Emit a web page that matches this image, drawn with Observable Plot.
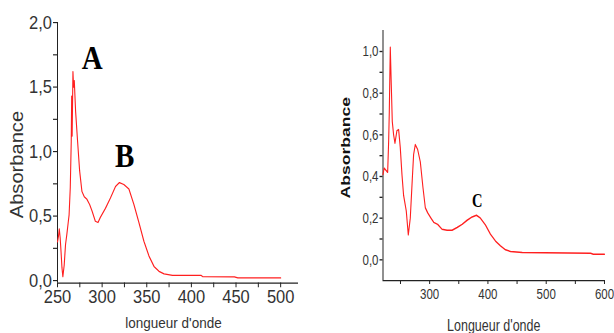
<!DOCTYPE html>
<html>
<head>
<meta charset="utf-8">
<script src="https://cdn.jsdelivr.net/npm/d3@7"></script>
<script src="https://cdn.jsdelivr.net/npm/@observablehq/plot@0.6"></script>
<style>
  html, body { margin: 0; padding: 0; background: #fff; }
  #wrap { position: relative; width: 614px; height: 333px; overflow: hidden; background: #fff; }
</style>
</head>
<body>
<div id="wrap"></div>
<script>
// ---- data ----
const leftWavelength = [250, 251, 252, 253, 254, 255, 256, 257.5, 259, 260.5, 262, 263, 264.3, 265.4, 265.9, 266.4, 267.3, 268.0, 268.8, 270.3, 272.5, 274.8, 277.4, 280, 283, 286, 288.7, 292.4, 295.4, 298, 303.7, 309.3, 315, 319.4, 324.3, 330, 335.6, 341.2, 346.8, 352.5, 358.1, 363.7, 369.4, 378.8, 410.7, 412.5, 448.2, 452, 500];
const leftAbsorbance = [0.30, 0.34, 0.40, 0.33, 0.22, 0.10, 0.03, 0.12, 0.28, 0.36, 0.45, 0.51, 0.72, 1.08, 1.43, 1.12, 1.62, 1.50, 1.55, 1.31, 1.08, 0.85, 0.69, 0.65, 0.63, 0.59, 0.54, 0.46, 0.45, 0.49, 0.56, 0.64, 0.73, 0.76, 0.745, 0.71, 0.59, 0.45, 0.305, 0.19, 0.11, 0.072, 0.052, 0.041, 0.041, 0.031, 0.028, 0.021, 0.021];

const rightWavelength = [220, 222, 225, 228, 229.7, 230.8, 232.5, 234.2, 235.9, 238.2, 240.5, 243.9, 246.8, 249.6, 252.5, 255.3, 259.9, 263.4, 266.8, 270.3, 272.5, 275.4, 279.4, 284, 288.6, 292.6, 296.6, 302.4, 307, 313.8, 321.3, 329.9, 338.5, 347.1, 355.7, 364.3, 372.9, 380.3, 387.2, 395.8, 404.4, 413, 421.6, 430.2, 438.8, 458.9, 576.2, 580.8, 600];
const rightAbsorbance = [0.41, 0.44, 0.43, 0.42, 0.57, 0.71, 1.02, 0.84, 0.665, 0.60, 0.56, 0.62, 0.625, 0.54, 0.41, 0.31, 0.235, 0.12, 0.20, 0.39, 0.505, 0.553, 0.53, 0.47, 0.346, 0.25, 0.226, 0.20, 0.18, 0.17, 0.147, 0.142, 0.142, 0.155, 0.17, 0.19, 0.206, 0.214, 0.20, 0.167, 0.123, 0.09, 0.067, 0.048, 0.04, 0.035, 0.032, 0.027, 0.027];

const leftXTicks = [250, 300, 350, 400, 450, 500];
const leftXMinor = [275, 325, 375, 425, 475];
const leftYTicks = [0, 0.5, 1.0, 1.5, 2.0];
const leftYMinor = [0.25, 0.75, 1.25, 1.75];

const rightXTicks = [300, 400, 500, 600];
const rightXMinor = [250, 350, 450, 550];
const rightYTicks = [0, 0.2, 0.4, 0.6, 0.8, 1.0];
const rightYMinor = [0.1, 0.3, 0.5, 0.7, 0.9];

const leftPeakLabels = ["A", "B"];
const leftPeakX = [288.9, 325.3];
const leftPeakY = [1.725, 0.963];
const rightPeakLabels = ["C"];
const rightPeakX = [381.5];
const rightPeakY = [0.282];

const yTitle = "Absorbance";
const leftXTitle = "longueur d'onde";
const rightXTitle = "Longueur d'onde";

// ---- build tables ----
const leftRows = leftWavelength.map((nm, i) => ({nm, abs: leftAbsorbance[i]}));
const rightRows = rightWavelength.map((nm, i) => ({nm, abs: rightAbsorbance[i]}));
const leftPeaks = leftPeakLabels.map((t, i) => ({t, x: leftPeakX[i], y: leftPeakY[i]}));
const rightPeaks = rightPeakLabels.map((t, i) => ({t, x: rightPeakX[i], y: rightPeakY[i]}));

const comma = d => d.toFixed(1).replace(".", ",");
const blank = () => "";
const H = 333;
const RED = "#ff1f1f";
const AXIS = "#222";

// ---- left chart (vertically stretched like the source image) ----
const sL = 1.15;
const hL = H / sL;
const topL = 22 / sL, botL = 282.6 / sL;
const left = Plot.plot({
  width: 310,
  height: hL,
  marginLeft: 57,
  marginRight: 12,
  marginTop: topL,
  marginBottom: hL - botL,
  x: {domain: [250, 520]},
  y: {domain: [-0.02, 2.0]},
  style: `position:absolute;left:0;top:0;transform:scale(1,${sL});transform-origin:0 0;font-family:'Liberation Sans',Arial,sans-serif;font-size:16.5px;color:#333;background:transparent;overflow:visible;`,
  marks: [
    Plot.axisY({ticks: leftYTicks, tickFormat: comma, tickSize: 4, tickPadding: 1.5, label: null, stroke: AXIS}),
    Plot.axisY({ticks: leftYMinor, tickFormat: blank, tickSize: 4, label: null, stroke: AXIS}),
    Plot.axisX({ticks: leftXTicks, tickFormat: d => String(d), tickSize: 4, tickPadding: 1.5, label: null, stroke: AXIS}),
    Plot.axisX({ticks: leftXMinor, tickFormat: blank, tickSize: 4, label: null, stroke: AXIS}),
    Plot.ruleX([250], {stroke: AXIS}),
    Plot.ruleY([-0.02], {stroke: AXIS}),
    Plot.line(leftRows, {x: "nm", y: "abs", stroke: RED, strokeWidth: 1.1}),
    Plot.text(leftPeaks, {x: "x", y: "y", text: "t", fontFamily: "'Liberation Serif','Times New Roman',serif", fontWeight: "bold", fontSize: 29, fill: "#000"}),
    Plot.text([yTitle], {frameAnchor: "left", textAnchor: "middle", lineAnchor: "middle", rotate: -90, dx: -40, dy: 10.2, fontSize: 17.5, fill: "#333"}),
    Plot.text([leftXTitle], {frameAnchor: "bottom", textAnchor: "middle", lineAnchor: "middle", dx: -4.5, dy: 34.3, fontSize: 13.5, fill: "#333"})
  ]
});

// ---- right chart ----
const sR = 1.35;
const hR = H / sR;
const topR = 30 / sR, botR = 280 / sR;
const right = Plot.plot({
  width: 294,
  height: hR,
  marginLeft: 62.5,
  marginRight: 10,
  marginTop: topR,
  marginBottom: hR - botR,
  x: {domain: [220, 600]},
  y: {domain: [-0.1, 1.1]},
  style: `position:absolute;left:320px;top:0;transform:scale(1,${sR});transform-origin:0 0;font-family:'Liberation Sans',Arial,sans-serif;font-size:11.5px;color:#333;background:transparent;overflow:visible;`,
  marks: [
    Plot.axisY({ticks: rightYTicks, tickFormat: comma, tickSize: 3, tickPadding: 1.5, label: null, stroke: AXIS}),
    Plot.axisY({ticks: rightYMinor, tickFormat: blank, tickSize: 3, label: null, stroke: AXIS}),
    Plot.axisX({ticks: rightXTicks, tickFormat: d => String(d), tickSize: 3, tickPadding: 2.5, label: null, stroke: AXIS}),
    Plot.axisX({ticks: rightXMinor, tickFormat: blank, tickSize: 3, label: null, stroke: AXIS}),
    Plot.ruleX([220], {stroke: AXIS}),
    Plot.ruleY([-0.1], {stroke: AXIS}),
    Plot.line(rightRows, {x: "nm", y: "abs", stroke: RED, strokeWidth: 1.1}),
    Plot.text(rightPeaks, {x: "x", y: "y", text: "t", fontFamily: "'Liberation Serif','Times New Roman',serif", fontWeight: "bold", fontSize: 14.5, fill: "#000"}),
    Plot.text([yTitle], {frameAnchor: "left", textAnchor: "middle", lineAnchor: "middle", rotate: -90, dx: -37.5, dy: -5.9, fontSize: 13, fontWeight: "bold", fill: "#111"}),
    Plot.text([rightXTitle], {frameAnchor: "bottom", textAnchor: "middle", lineAnchor: "middle", dx: 0, dy: 33.3, fontSize: 12.5, fill: "#333"})
  ]
});

const wrap = document.getElementById("wrap");
wrap.appendChild(left);
wrap.appendChild(right);
</script>
</body>
</html>
